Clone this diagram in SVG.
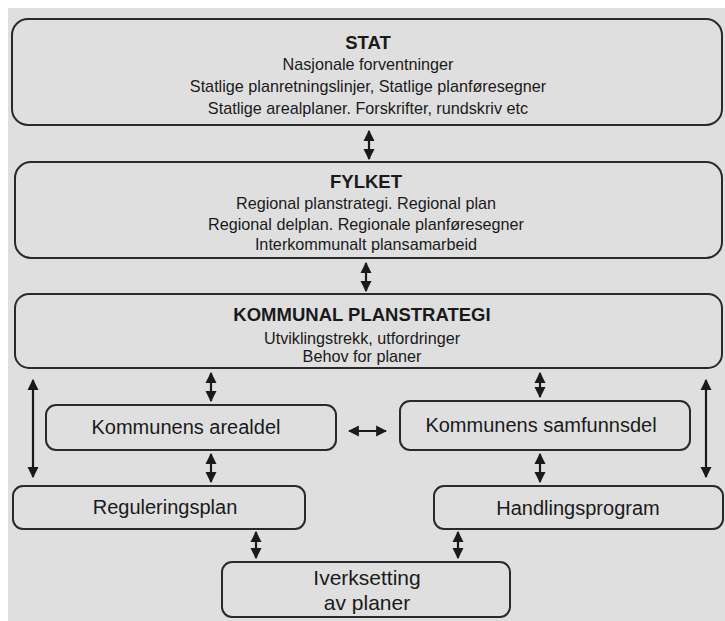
<svg xmlns="http://www.w3.org/2000/svg" width="725" height="621" viewBox="0 0 725 621">
<defs>
<style>
.box{fill:none;stroke:#2a2a2a;stroke-width:2}
.t{font-family:"Liberation Sans",Arial,sans-serif;fill:#1a1a1a;text-anchor:middle}
.h{font-weight:bold;font-size:18.5px}
.s{font-size:16.2px}
.n{font-size:20px}
.c{stroke:#1a1a1a;stroke-width:2.2;fill:none;marker-start:url(#ah);marker-end:url(#ah)}
</style>
<marker id="ah" viewBox="0 0 10 10" refX="9" refY="5" markerWidth="5" markerHeight="6" markerUnits="strokeWidth" orient="auto-start-reverse">
<path d="M0,0 L10,5 L0,10 z" fill="#1a1a1a"/>
</marker>
</defs>
<rect x="0" y="0" width="725" height="621" fill="#ffffff"/>
<rect x="8" y="8" width="717" height="613" fill="#dfdfdf"/>

<g id="stat">
<rect class="box" x="12" y="19" width="710" height="106" rx="16"/>
<text class="t h" x="368" y="49">STAT</text>
<text class="t s" x="368" y="70">Nasjonale forventninger</text>
<text class="t s" x="368" y="92">Statlige planretningslinjer, Statlige planføresegner</text>
<text class="t s" x="368" y="114">Statlige arealplaner. Forskrifter, rundskriv etc</text>
</g>

<g id="fylket">
<rect class="box" x="15" y="162" width="707" height="96" rx="16"/>
<text class="t h" x="366" y="188">FYLKET</text>
<text class="t s" x="366" y="209">Regional planstrategi. Regional plan</text>
<text class="t s" x="366" y="230">Regional delplan. Regionale planføresegner</text>
<text class="t s" x="366" y="250">Interkommunalt plansamarbeid</text>
</g>

<g id="kommunal">
<rect class="box" x="15" y="294" width="707" height="74" rx="14"/>
<text class="t h" x="362" y="321">KOMMUNAL PLANSTRATEGI</text>
<text class="t s" x="362" y="344">Utviklingstrekk, utfordringer</text>
<text class="t s" x="362" y="362">Behov for planer</text>
</g>

<g id="arealdel">
<rect class="box" x="46" y="405" width="290" height="45" rx="10"/>
<text class="t n" x="186" y="434">Kommunens arealdel</text>
</g>

<g id="samfunnsdel">
<rect class="box" x="400" y="401" width="290" height="49" rx="10"/>
<text class="t n" x="541" y="432">Kommunens samfunnsdel</text>
</g>

<g id="regulering">
<rect class="box" x="13" y="486" width="292" height="43" rx="10"/>
<text class="t n" x="165" y="514">Reguleringsplan</text>
</g>

<g id="handling">
<rect class="box" x="434" y="486" width="289" height="43" rx="10"/>
<text class="t n" x="578" y="515">Handlingsprogram</text>
</g>

<g id="iverksetting">
<rect class="box" x="222" y="562" width="288" height="55" rx="10"/>
<text class="t n" style="font-size:21px" x="367" y="585">Iverksetting</text>
<text class="t n" style="font-size:21px" x="367" y="610">av planer</text>
</g>

<g id="connectors">
<line class="c" x1="369" y1="131" x2="369" y2="159"/>
<line class="c" x1="366" y1="263" x2="366" y2="291"/>
<line class="c" x1="211" y1="373" x2="211" y2="401"/>
<line class="c" x1="540" y1="373" x2="540" y2="397"/>
<line class="c" x1="349" y1="431" x2="386" y2="431"/>
<line class="c" x1="211" y1="454" x2="211" y2="482"/>
<line class="c" x1="540" y1="454" x2="540" y2="482"/>
<line class="c" x1="256" y1="532" x2="256" y2="558"/>
<line class="c" x1="458" y1="532" x2="458" y2="558"/>
<line class="c" x1="33" y1="380" x2="33" y2="477"/>
<line class="c" x1="706" y1="380" x2="706" y2="477"/>
</g>
</svg>
